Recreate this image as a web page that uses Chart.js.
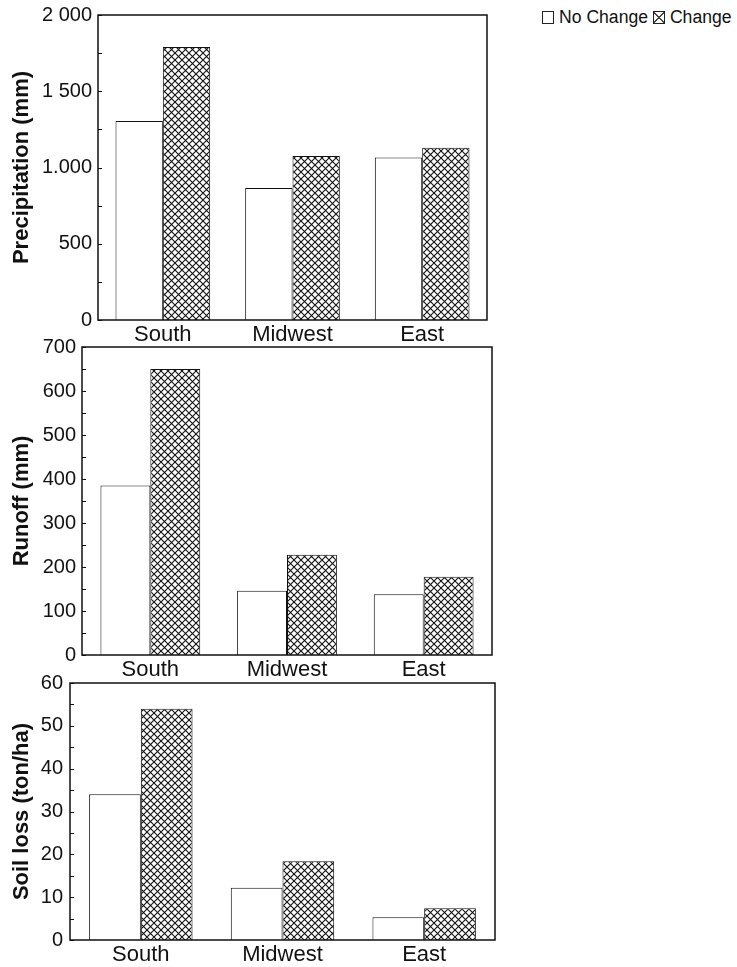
<!DOCTYPE html>
<html>
<head>
<meta charset="utf-8">
<script src="https://cdn.jsdelivr.net/npm/chart.js@4.4.1/dist/chart.umd.min.js"></script>
<style>
  html, body { margin: 0; padding: 0; background: #fff; }
  body { width: 737px; height: 967px; position: relative; overflow: hidden; font-family: "Liberation Sans", Arial, Helvetica, sans-serif; }
  canvas { position: absolute; left: 0; }
  #legend { position: absolute; left: 542px; top: 7px; font-size: 17.6px; color: #111; white-space: nowrap; }
  #legend .box { display: inline-block; width: 10px; height: 11px; border: 1px solid #222; vertical-align: -1px; margin-right: 5px; }
  #legend .x { background:
      linear-gradient(45deg, transparent 44%, #444 44%, #444 56%, transparent 56%),
      linear-gradient(-45deg, transparent 44%, #444 44%, #444 56%, transparent 56%); }
</style>
</head>
<body>
<div id="legend"><span class="box"></span>No Change <span class="box x"></span>Change</div>
<canvas id="c1" width="510" height="353" style="top:-3px"></canvas>
<canvas id="c2" width="510" height="356" style="top:329px"></canvas>
<canvas id="c3" width="510" height="306" style="top:664px"></canvas>
<script>
// ---------- data ----------
const categories = ['South', 'Midwest', 'East'];
const seriesNames = ['No Change', 'Change'];

const precipNoChange = [1305, 865, 1065];
const precipChange   = [1790, 1075, 1130];
const precipTickValues = [0, 500, 1000, 1500, 2000];
const precipTickLabels = ['0', '500', '1.000', '1 500', '2 000'];

const runoffNoChange = [385, 146, 138];
const runoffChange   = [650, 228, 178];
const runoffTickValues = [0, 100, 200, 300, 400, 500, 600, 700];
const runoffTickLabels = ['0', '100', '200', '300', '400', '500', '600', '700'];

const soilNoChange = [34, 12.2, 5.3];
const soilChange   = [54, 18.4, 7.4];
const soilTickValues = [0, 10, 20, 30, 40, 50, 60];
const soilTickLabels = ['0', '10', '20', '30', '40', '50', '60'];

// ---------- styling helpers ----------
const FONT = '"Liberation Sans", Arial, Helvetica, sans-serif';
const INK = '#111';

function makeHatch() {
  const s = 7;
  const c = document.createElement('canvas');
  c.width = s; c.height = s;
  const g = c.getContext('2d');
  g.fillStyle = '#fff';
  g.fillRect(0, 0, s, s);
  g.strokeStyle = '#111';
  g.lineWidth = 1.1;
  g.beginPath();
  g.moveTo(-1, -1); g.lineTo(s + 1, s + 1);
  g.moveTo(s + 1, -1); g.lineTo(-1, s + 1);
  g.stroke();
  return g.createPattern(c, 'repeat');
}

const framePlugin = {
  id: 'frame',
  afterDraw(chart) {
    const { ctx, chartArea: a } = chart;
    const y = chart.scales.y;
    ctx.save();
    ctx.strokeStyle = INK;
    ctx.lineWidth = 1.5;
    ctx.strokeRect(a.left, a.top, a.right - a.left, a.bottom - a.top);
    ctx.lineWidth = 1;
    y.ticks.forEach(t => {
      const py = Math.round(y.getPixelForValue(t.value)) + 0.5;
      ctx.beginPath();
      ctx.moveTo(a.left, py);
      ctx.lineTo(a.left + 4, py);
      ctx.stroke();
    });
    ctx.restore();
  }
};

function makeChart(id, opts) {
  const ctx = document.getElementById(id).getContext('2d');
  const hatch = makeHatch();
  return new Chart(ctx, {
    type: 'bar',
    data: {
      labels: categories,
      datasets: [
        { label: seriesNames[0], data: opts.noChange, backgroundColor: '#fff', borderColor: INK, borderWidth: 1 },
        { label: seriesNames[1], data: opts.change, backgroundColor: hatch, borderColor: INK, borderWidth: 1 }
      ]
    },
    options: {
      responsive: false,
      animation: false,
      devicePixelRatio: 1,
      layout: { padding: { top: opts.top, right: opts.right, left: 0, bottom: 0 } },
      plugins: { legend: { display: false }, tooltip: { enabled: false } },
      datasets: { bar: { categoryPercentage: 0.73, barPercentage: 1.0 } },
      scales: {
        x: {
          grid: { display: false, drawTicks: false },
          border: { display: false },
          ticks: { color: INK, font: { family: FONT, size: 22 }, padding: 2 },
          afterFit: s => { s.height = 30; }
        },
        y: {
          min: 0,
          max: opts.max,
          grid: { display: false, drawTicks: false },
          border: { display: false },
          ticks: {
            stepSize: opts.step,
            autoSkip: false,
            color: INK,
            padding: opts.tickPad,
            font: { family: FONT, size: 20 },
            callback: v => {
              const i = opts.tickValues.indexOf(v);
              return i >= 0 ? opts.tickLabels[i] : '';
            }
          },
          title: {
            display: true,
            text: opts.title,
            color: INK,
            font: { family: FONT, size: 22, weight: 'bold' },
            padding: { top: 9, bottom: 4 }
          },
          afterFit: s => { s.width = opts.left; }
        }
      }
    },
    plugins: [framePlugin]
  });
}

makeChart('c1', {
  noChange: precipNoChange, change: precipChange,
  max: 2000, step: 250, tickValues: precipTickValues, tickLabels: precipTickLabels,
  title: 'Precipitation (mm)', top: 11, right: 510 - 487, left: 98, tickPad: 6
});
makeChart('c2', {
  noChange: runoffNoChange, change: runoffChange,
  max: 700, step: 50, tickValues: runoffTickValues, tickLabels: runoffTickLabels,
  title: 'Runoff (mm)', top: 12, right: 510 - 492, left: 82, tickPad: 6
});
makeChart('c3', {
  noChange: soilNoChange, change: soilChange,
  max: 60, step: 5, tickValues: soilTickValues, tickLabels: soilTickLabels,
  title: 'Soil loss (ton/ha)', top: 11, right: 510 - 495, left: 70, tickPad: 7
});
</script>
</body>
</html>
